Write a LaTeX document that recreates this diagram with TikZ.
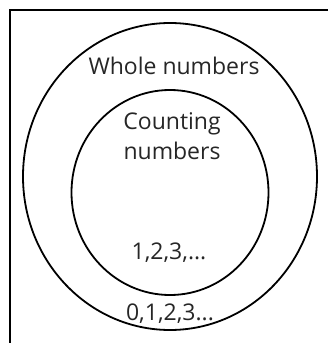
\documentclass[tikz,border=0pt]{standalone}
\usepackage{fontspec}
\setmainfont{Open Sans}
\begin{document}
\begin{tikzpicture}[x=1pt,y=-1pt]
  \useasboundingbox (0,0) rectangle (327,343);

  \draw[line width=2pt] (330,10) -- (10,10) -- (10,346);

  \draw[line width=1.8pt] (170,176.5) ellipse (147 and 153.5);
  \draw[line width=1.8pt] (170,192.5) ellipse (98.5 and 102.5);

  \node[font=\fontsize{23}{30}\selectfont, text=black!85] (whole) at (174,66) {Whole numbers};
  \node[font=\fontsize{23}{30}\selectfont, text=black!85, align=center] (counting) at (172,136) {Counting\\numbers};
  \node[font=\fontsize{23}{30}\selectfont, text=black!85] (cset) at (169,253) {1,2,3,...};
  \node[font=\fontsize{23}{30}\selectfont, text=black!85] (wset) at (170,314) {0,1,2,3...};

\end{tikzpicture}
\end{document}
